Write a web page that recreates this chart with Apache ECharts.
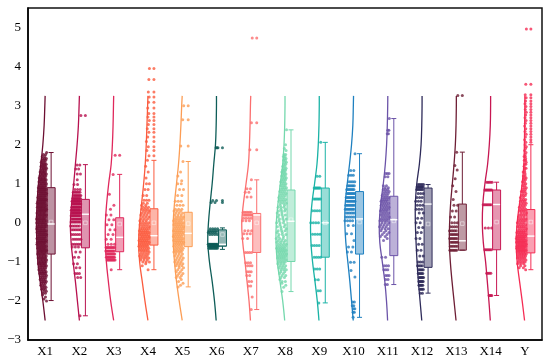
<!DOCTYPE html>
<html><head><meta charset="utf-8">
<script src="https://cdn.jsdelivr.net/npm/echarts@6/dist/echarts.min.js"></script>
<style>html,body{margin:0;padding:0;background:#fff}#c{width:550px;height:362px}</style>
</head><body><div id="c"></div>
<script>
const categories = ['X1','X2','X3','X4','X5','X6','X7','X8','X9','X10','X11','X12','X13','X14','Y'];
const colors = ['#6d0f32','#b8114f','#e0285c','#fb5b3e','#fc9d55','#0e5d58','#fb6f6f','#74d8ad','#1ab3a6','#1f80c0','#6b53a8','#2e2b5a','#6e1e35','#c71752','#f52c54'];
const yTicks = [-3,-2,-1,0,1,2,3,4,5];

// density curve levels (value axis) and relative density
const levels = [-2.5,-2,-1.5,-1,-0.5,0,0.5,1,1.5,2,2.5,3,3.25];
const densX1  = [0,0.23,0.5,0.73,0.83,0.87,0.8,0.67,0.43,0.23,0.1,0.03,0];
const densX2  = [0,0.2,0.4,0.63,0.83,0.9,0.77,0.57,0.4,0.23,0.1,0.03,0];
const densX3  = [0,0.3,0.53,0.73,0.83,0.83,0.7,0.5,0.25,0.13,0.06,0.02,0];
const densX4  = [0,0.3,0.57,0.83,0.93,0.83,0.63,0.43,0.27,0.17,0.1,0.03,0];
const densX5  = [0,0.3,0.57,0.77,0.9,0.9,0.77,0.57,0.37,0.23,0.13,0.05,0];
const densX6  = [0.03,0.2,0.43,0.7,0.87,0.8,0.63,0.43,0.27,0.1,0.03,0,0];
const densX7  = [0.03,0.17,0.37,0.57,0.8,0.9,0.73,0.47,0.23,0.13,0.07,0.03,0];
const densX8  = [0.03,0.23,0.5,0.77,0.9,0.87,0.7,0.47,0.23,0.1,0.03,0,0];
const densX9  = [0.03,0.2,0.43,0.67,0.83,0.87,0.73,0.47,0.23,0.1,0.03,0,0];
const densX10 = [0.03,0.2,0.37,0.57,0.77,0.87,0.83,0.63,0.4,0.2,0.07,0.02,0];
const densX11 = [0.02,0.13,0.3,0.55,0.8,0.85,0.7,0.45,0.25,0.12,0.05,0.01,0];
const densX12 = [0.03,0.2,0.37,0.5,0.6,0.67,0.67,0.53,0.27,0.1,0.03,0,0];
const densX13 = [0.03,0.23,0.43,0.6,0.7,0.67,0.57,0.4,0.23,0.1,0.03,0,0];
const densX14 = [0.03,0.17,0.33,0.5,0.73,0.83,0.77,0.57,0.3,0.13,0.03,0,0];
const densY   = [0.03,0.27,0.53,0.77,0.87,0.77,0.53,0.27,0.1,0.05,0.02,0,0];

// box stats: [lower whisker, Q1, median, Q3, upper whisker, mean]
const boxX1  = [-1.99,-0.80,-0.03,0.90,1.80,0.02];
const boxX2  = [-2.38,-0.64,0.22,0.60,1.49,0.00];
const boxX3  = [-1.20,-0.74,-0.37,0.13,1.24,-0.03];
const boxX4  = [-1.20,-0.57,-0.33,0.36,1.60,0.00];
const boxX5  = [-1.64,-0.61,-0.27,0.27,1.57,-0.02];
const boxX6  = [-0.68,-0.60,-0.55,-0.18,-0.13,-0.30];
const boxX7  = [-2.22,-0.76,0.20,0.24,1.10,0.00];
const boxX8  = [-1.76,-0.99,0.04,0.84,2.38,0.08];
const boxX9  = [-2.05,-0.88,0.00,0.89,2.06,0.00];
const boxX10 = [-2.42,-0.80,0.10,0.80,1.77,0.02];
const boxX11 = [-1.58,-0.84,0.08,0.68,2.67,0.05];
const boxX12 = [-1.80,-1.14,0.48,0.89,0.98,-0.03];
const boxX13 = [-0.70,-0.70,-0.46,0.48,1.81,-0.02];
const boxX14 = [-1.86,-0.69,0.47,0.84,1.04,0.02];
const boxY   = [-1.20,-0.77,-0.34,0.34,2.00,0.02];

// outliers
const outX1 = [];
const outX2 = [2.75];
const outX3 = [1.73];
const outX4 = [3.95,3.67,3.35,3.22,3.09,2.94,2.80,2.71,2.62,2.52,2.41,2.32,2.20,2.08,1.95,1.85,1.72];
const outX5 = [3.0,2.64,1.97];
const outX6 = [1.92,0.57,0.52];
const outX7 = [4.73,2.56,1.87];
const outX8 = [];
const outX9 = [];
const outX10 = [];
const outX11 = [];
const outX12 = [];
const outX13 = [3.26];
const outX14 = [];
const outY = [4.96,3.55,3.28,3.20,3.12,3.05,2.98,2.90,2.83,2.76,2.69,2.62,2.55,2.48,2.41,2.34,2.27,2.20,2.13,2.06];

// raw points: [value, count of points at that value]
const ptsX1 = [[1.8,1],[1.75,2],[1.7,2],[1.65,3],[1.6,3],[1.55,3],[1.5,4],[1.45,4],[1.4,4],[1.35,4],[1.3,5],[1.25,5],[1.2,5],[1.15,5],[1.1,6],[1.05,6],[1.0,6],[0.95,6],[0.9,7],[0.85,7],[0.8,7],[0.75,7],[0.7,7],[0.65,7],[0.6,8],[0.55,7],[0.5,8],[0.45,7],[0.4,8],[0.35,7],[0.3,8],[0.25,7],[0.2,8],[0.15,7],[0.1,8],[0.05,7],[0.0,8],[-0.05,7],[-0.1,8],[-0.15,7],[-0.2,8],[-0.25,7],[-0.3,8],[-0.35,7],[-0.4,8],[-0.45,7],[-0.5,8],[-0.55,7],[-0.6,7],[-0.65,7],[-0.7,7],[-0.75,7],[-0.8,7],[-0.85,6],[-0.9,7],[-0.95,6],[-1.0,6],[-1.05,6],[-1.1,6],[-1.15,5],[-1.2,5],[-1.25,5],[-1.3,5],[-1.35,4],[-1.4,4],[-1.45,4],[-1.5,4],[-1.55,3],[-1.6,3],[-1.65,3],[-1.7,3],[-1.75,2],[-1.8,2],[-1.85,1],[-1.9,1],[-1.95,1],[-2.0,1]];
const ptsX2 = [[2.75,1],[1.48,2],[1.38,2],[1.25,2],[1.1,1],[0.98,2],[0.85,3],[0.78,6],[0.7,8],[0.62,10],[0.55,12],[0.48,12],[0.4,12],[0.32,12],[0.25,12],[0.18,10],[0.1,10],[0.02,8],[-0.08,6],[-0.18,6],[-0.3,5],[-0.42,5],[-0.55,5],[-0.62,3],[-0.75,2],[-0.88,2],[-1.05,2],[-1.15,2],[-1.3,3],[-1.4,2],[-2.38,1]];
const ptsX3 = [[1.73,1],[1.24,1],[0.73,1],[0.45,1],[0.35,1],[0.2,2],[0.08,2],[-0.05,2],[-0.18,2],[-0.3,2],[-0.42,2],[-0.55,3],[-0.63,9],[-0.72,10],[-0.8,8],[-0.88,10],[-0.95,9],[-1.2,1]];
const ptsX4 = [[3.95,1],[3.67,1],[3.35,1],[3.22,1],[3.09,1],[2.94,1],[2.80,1],[2.71,1],[2.62,1],[2.52,1],[2.41,1],[2.32,1],[2.20,1],[2.08,1],[1.95,1],[1.85,1],[1.72,1],[1.6,1],[1.45,1],[1.3,1],[1.15,1],[1.0,2],[0.85,2],[0.7,2],[0.58,3],[0.5,2],[0.45,2],[0.4,3],[0.35,3],[0.3,3],[0.25,3],[0.2,3],[0.15,3],[0.1,3],[0.05,3],[0.0,4],[-0.05,4],[-0.1,4],[-0.15,5],[-0.2,5],[-0.25,6],[-0.3,6],[-0.35,6],[-0.4,6],[-0.45,6],[-0.5,6],[-0.55,6],[-0.6,6],[-0.65,5],[-0.7,5],[-0.75,4],[-0.8,4],[-0.85,4],[-0.9,4],[-0.95,3],[-1.0,3],[-1.05,1],[-1.1,1],[-1.2,1]];
const ptsX5 = [[3.0,1],[2.64,1],[1.97,1],[1.57,1],[1.3,1],[1.2,1],[1.08,1],[1.0,2],[0.85,2],[0.7,2],[0.55,3],[0.45,3],[0.35,3],[0.3,3],[0.25,3],[0.2,3],[0.15,4],[0.1,4],[0.05,4],[0.0,5],[-0.05,5],[-0.1,5],[-0.15,5],[-0.2,5],[-0.25,5],[-0.3,5],[-0.35,5],[-0.4,5],[-0.45,5],[-0.5,5],[-0.55,5],[-0.6,4],[-0.65,4],[-0.7,4],[-0.75,4],[-0.8,3],[-0.85,3],[-0.9,3],[-0.95,3],[-1.0,3],[-1.05,3],[-1.1,3],[-1.15,2],[-1.2,2],[-1.25,2],[-1.3,2],[-1.35,2],[-1.4,2],[-1.45,1],[-1.5,1],[-1.55,1],[-1.6,1],[-1.64,1]];
const ptsX6 = [[1.92,3],[0.57,2],[0.52,2],[-0.15,4],[-0.2,5],[-0.25,5],[-0.3,4],[-0.55,12],[-0.6,14],[-0.65,8]];
const ptsX7 = [[4.73,1],[2.56,1],[1.87,1],[1.1,1],[0.87,2],[0.78,2],[0.66,2],[0.27,6],[0.2,8],[0.12,4],[0.05,3],[-0.2,3],[-0.28,3],[-0.4,2],[-0.76,4],[-1.02,3],[-1.1,3],[-1.25,3],[-1.35,2],[-1.5,2],[-1.62,2],[-1.9,1],[-2.22,1]];
const ptsX8 = [[2.38,1],[2.0,1],[1.9,1],[1.85,1],[1.75,2],[1.7,2],[1.65,2],[1.6,2],[1.55,2],[1.5,2],[1.45,2],[1.4,2],[1.35,3],[1.3,3],[1.25,3],[1.2,3],[1.15,3],[1.1,3],[1.05,3],[1.0,3],[0.95,3],[0.9,3],[0.85,3],[0.8,3],[0.75,3],[0.7,3],[0.65,3],[0.6,3],[0.55,3],[0.5,3],[0.45,2],[0.4,3],[0.35,2],[0.3,3],[0.25,2],[0.2,3],[0.15,2],[0.1,3],[0.05,2],[0.0,3],[-0.05,2],[-0.1,3],[-0.15,2],[-0.2,3],[-0.25,2],[-0.3,3],[-0.35,2],[-0.4,3],[-0.45,3],[-0.5,3],[-0.55,4],[-0.6,4],[-0.65,5],[-0.7,5],[-0.75,5],[-0.8,5],[-0.85,5],[-0.9,5],[-0.95,4],[-1.0,4],[-1.05,3],[-1.1,3],[-1.15,3],[-1.2,3],[-1.25,2],[-1.3,2],[-1.35,2],[-1.4,2],[-1.45,1],[-1.5,2],[-1.55,1],[-1.6,1],[-1.65,1],[-1.76,1]];
const ptsX9 = [[2.06,1],[1.19,2],[0.89,8],[0.61,6],[0.31,4],[0.0,4],[-0.29,4],[-0.58,4],[-0.88,4],[-1.18,3],[-1.46,2],[-1.74,2],[-2.05,1]];
const ptsX10 = [[1.77,1],[1.34,2],[1.22,3],[1.05,4],[0.95,6],[0.85,7],[0.75,8],[0.65,8],[0.55,8],[0.45,8],[0.35,8],[0.25,6],[0.15,5],[0.05,4],[-0.07,2],[-0.28,2],[-0.45,1],[-0.62,2],[-0.75,2],[-1.01,2],[-1.22,1],[-1.39,1],[-2.03,2],[-2.12,2],[-2.2,2],[-2.29,2],[-2.42,1]];
const ptsX11 = [[2.67,1],[2.37,2],[2.28,2],[1.26,3],[1.18,2],[0.95,2],[0.9,2],[0.85,3],[0.8,3],[0.75,3],[0.7,3],[0.65,4],[0.6,4],[0.55,4],[0.5,4],[0.45,4],[0.4,4],[0.35,4],[0.3,4],[0.25,4],[0.2,4],[0.15,4],[0.1,4],[0.05,4],[0.0,3],[-0.05,3],[-0.1,3],[-0.15,3],[-0.2,2],[-0.25,2],[-0.3,2],[-0.35,2],[-0.4,1],[-0.45,1],[-0.88,2],[-1.1,3],[-1.2,3],[-1.35,3],[-1.45,2],[-1.58,2]];
const ptsX12 = [[0.98,5],[0.92,8],[0.85,6],[0.75,3],[0.65,3],[0.55,3],[0.45,3],[0.35,3],[0.25,2],[0.12,2],[0.0,2],[-0.12,2],[-0.25,2],[-0.4,2],[-0.55,2],[-0.7,2],[-0.85,2],[-1.0,3],[-1.1,4],[-1.2,5],[-1.3,5],[-1.4,6],[-1.5,6],[-1.6,5],[-1.7,4],[-1.8,2]];
const ptsX13 = [[3.26,1],[1.81,1],[1.47,1],[1.35,1],[1.13,1],[0.95,1],[0.8,1],[0.6,1],[0.45,2],[0.3,2],[0.15,2],[0.0,3],[-0.1,4],[-0.2,5],[-0.3,6],[-0.4,6],[-0.5,6],[-0.6,5],[-0.7,6]];
const ptsX14 = [[1.04,5],[0.84,8],[0.46,7],[-0.13,3],[-0.69,6],[-1.29,4],[-1.86,4]];
const ptsY = [[4.96,1],[3.55,1],[3.28,1],[3.20,1],[3.12,1],[3.05,1],[2.98,1],[2.90,1],[2.83,1],[2.76,1],[2.69,1],[2.62,1],[2.55,1],[2.48,1],[2.41,1],[2.34,1],[2.27,1],[2.20,1],[2.13,1],[2.06,1],[2.0,1],[1.95,1],[1.9,1],[1.85,1],[1.8,1],[1.75,1],[1.7,2],[1.65,1],[1.6,2],[1.55,1],[1.5,2],[1.45,1],[1.4,2],[1.35,1],[1.3,2],[1.25,1],[1.2,2],[1.15,2],[1.1,2],[1.05,2],[1.0,2],[0.95,2],[0.9,2],[0.85,2],[0.8,3],[0.75,2],[0.7,3],[0.65,2],[0.6,3],[0.55,3],[0.5,3],[0.45,3],[0.4,3],[0.35,3],[0.3,4],[0.25,3],[0.2,4],[0.15,3],[0.1,4],[0.05,4],[0.0,4],[-0.05,4],[-0.1,5],[-0.15,4],[-0.2,5],[-0.25,6],[-0.3,6],[-0.35,7],[-0.4,7],[-0.45,7],[-0.5,8],[-0.55,7],[-0.6,8],[-0.65,7],[-0.7,7],[-0.75,6],[-0.8,6],[-0.85,5],[-0.9,5],[-0.95,4],[-1.0,4],[-1.05,3],[-1.1,2],[-1.15,2],[-1.2,1]];

const dens = [densX1,densX2,densX3,densX4,densX5,densX6,densX7,densX8,densX9,densX10,densX11,densX12,densX13,densX14,densY];
const boxes = [boxX1,boxX2,boxX3,boxX4,boxX5,boxX6,boxX7,boxX8,boxX9,boxX10,boxX11,boxX12,boxX13,boxX14,boxY];
const outs = [outX1,outX2,outX3,outX4,outX5,outX6,outX7,outX8,outX9,outX10,outX11,outX12,outX13,outX14,outY];
const pts = [ptsX1,ptsX2,ptsX3,ptsX4,ptsX5,ptsX6,ptsX7,ptsX8,ptsX9,ptsX10,ptsX11,ptsX12,ptsX13,ptsX14,ptsY];

// layout constants (pixels)
const DENS_PX = 10, BOX_OFF = 6, BOX_W = 8, CAP_W = 5, PT_R = 1.5, RIGHT_PAD = 1.5;

function densAt(d, v) {
  if (v <= levels[0] || v >= levels[levels.length-1]) return 0;
  for (let k = 0; k < levels.length-1; k++) {
    if (v >= levels[k] && v <= levels[k+1]) {
      const t = (v - levels[k]) / (levels[k+1] - levels[k]);
      return d[k] + t*(d[k+1]-d[k]);
    }
  }
  return 0;
}

const curveData = categories.map((c,i)=>[i, 0]);
const pointData = [];
// horizontal spread within each row: evenly spaced slots, staggered row to row
pts.forEach((g,i)=>g.forEach(([v,n],r)=>{
  const phase = ((r * 0.381966) % 1);
  for (let k=0;k<n;k++) pointData.push([i, v, ((k + phase) / n)]);
}));
const boxData = boxes.map((b,i)=>[i].concat(b));
const outData = [];
outs.forEach((g,i)=>g.forEach(v=>outData.push([i, v])));

const chart = echarts.init(document.getElementById('c'));
const FONT = 'Liberation Serif';
chart.setOption({
  animation: false,
  backgroundColor: '#fff',
  grid: {left: 28, right: 8, top: 8, bottom: 22, show: true, borderColor: '#111', borderWidth: 1.5},
  xAxis: {
    type: 'category', data: categories, boundaryGap: true,
    axisLine: {onZero: false, lineStyle: {color: '#000', width: 1.5}},
    axisTick: {alignWithLabel: true, inside: true, length: 5, lineStyle: {color: '#000', width: 1}},
    axisLabel: {color: '#000', fontFamily: FONT, fontSize: 13, margin: 5},
    splitLine: {show: false}
  },
  yAxis: {
    type: 'value', min: -3, max: 5.5, interval: 1,
    axisLine: {show: true, onZero: false, lineStyle: {color: '#000', width: 1.5}},
    axisTick: {inside: true, length: 5, lineStyle: {color: '#000', width: 1}},
    axisLabel: {color: '#000', fontFamily: FONT, fontSize: 13, margin: 7,
      formatter: v => yTicks.indexOf(v) >= 0 ? String(v).replace('-', '\u2212') : ''},
    splitLine: {show: false}
  },
  series: [
    { type: 'custom', name: 'density', data: curveData, encode: {x: 0, y: 1}, z: 2,
      renderItem: (params, api) => {
        const i = api.value(0);
        const p = levels.map((lv,k)=>{ const c = api.coord([i, lv]); return [c[0] - dens[i][k]*DENS_PX, c[1]]; });
        return {type: 'polyline', shape: {points: p, smooth: 0.4}, style: {stroke: colors[i], lineWidth: 1.3, fill: null}};
      }
    },
    { type: 'custom', name: 'points', data: pointData, encode: {x: 0, y: 1}, z: 3,
      renderItem: (params, api) => {
        const i = api.value(0), v = api.value(1), u = api.value(2);
        const c = api.coord([i, v]);
        const w = densAt(dens[i], v) * DENS_PX;
        const x = c[0] + RIGHT_PAD - u*(w + RIGHT_PAD);
        return {type: 'circle', shape: {cx: x, cy: c[1], r: PT_R}, style: {fill: colors[i], opacity: 0.8}};
      }
    },
    { type: 'custom', name: 'box', data: boxData, encode: {x: 0, y: [1,2,3,4,5]}, z: 4,
      renderItem: (params, api) => {
        const i = api.value(0);
        const col = colors[i];
        const cx = api.coord([i, 0])[0] + BOX_OFF;
        const y = k => api.coord([i, api.value(k)])[1];
        const lo = y(1), q1 = y(2), md = y(3), q3 = y(4), hi = y(5), mn = y(6);
        const ls = {stroke: col, lineWidth: 1};
        return {type: 'group', children: [
          {type: 'line', shape: {x1: cx, y1: lo, x2: cx, y2: q1}, style: ls},
          {type: 'line', shape: {x1: cx, y1: q3, x2: cx, y2: hi}, style: ls},
          {type: 'line', shape: {x1: cx-CAP_W/2, y1: lo, x2: cx+CAP_W/2, y2: lo}, style: ls},
          {type: 'line', shape: {x1: cx-CAP_W/2, y1: hi, x2: cx+CAP_W/2, y2: hi}, style: ls},
          {type: 'rect', shape: {x: cx-BOX_W/2, y: q3, width: BOX_W, height: q1-q3}, style: {fill: col, fillOpacity: 0.45, stroke: col, lineWidth: 1}},
          {type: 'line', shape: {x1: cx-BOX_W/2+0.5, y1: md, x2: cx+BOX_W/2-0.5, y2: md}, style: {stroke: '#fff', lineWidth: 1.4}},
          {type: 'rect', shape: {x: cx-1.8, y: mn-1.8, width: 3.6, height: 3.6}, style: {fill: null, stroke: '#fff', lineWidth: 0.8, opacity: 0.6}}
        ]};
      }
    },
    { type: 'custom', name: 'outliers', data: outData, encode: {x: 0, y: 1}, z: 5,
      renderItem: (params, api) => {
        const i = api.value(0);
        const c = api.coord([i, api.value(1)]);
        return {type: 'circle', shape: {cx: c[0] + BOX_OFF, cy: c[1], r: PT_R}, style: {fill: colors[i], opacity: 0.8}};
      }
    }
  ]
});
</script>
</body></html>
